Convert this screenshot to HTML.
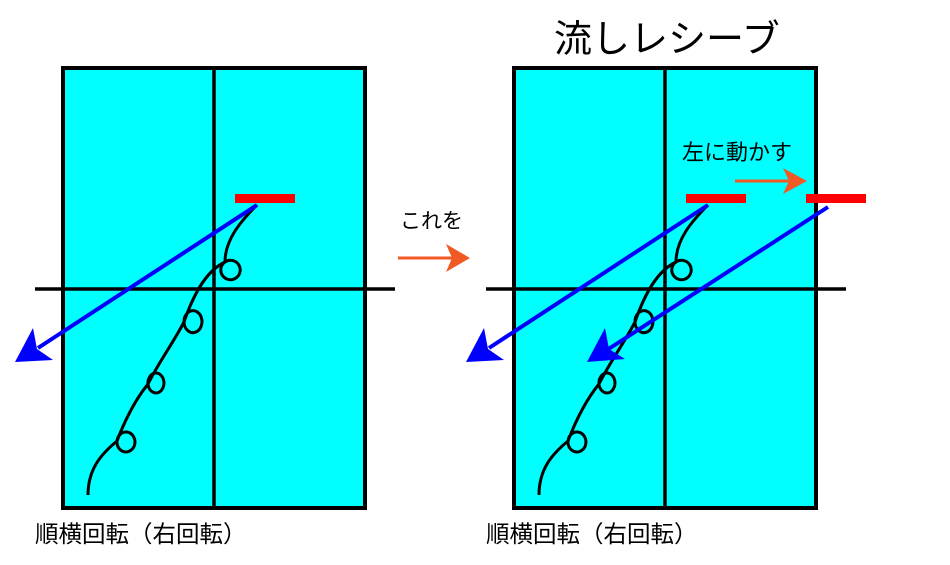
<!DOCTYPE html>
<html><head><meta charset="utf-8"><style>
body{margin:0;background:#fff;width:950px;height:560px;overflow:hidden}
text{font-family:"Liberation Sans","Noto Sans CJK JP",sans-serif;fill:#000}
</style></head><body>
<svg width="950" height="560" viewBox="0 0 950 560" xmlns="http://www.w3.org/2000/svg">
<defs>
<g id="court">
<rect x="63" y="68" width="302" height="440" fill="#00ffff" stroke="#000" stroke-width="4"/>
<line x1="214" y1="68" x2="214" y2="508" stroke="#000" stroke-width="3.5"/>
<line x1="35" y1="289" x2="395" y2="289" stroke="#000" stroke-width="3.5"/>
<rect x="235" y="194" width="60" height="9" fill="#ff0000"/>
<path d="M88,495 C88,470 100,455 117,441 A9,10 0 1 1 126,452 A9,10 0 0 1 117,441 C125,420 135,400 148,384 A8,10 0 1 1 156,393 A8,10 0 0 1 148,384 C160,360 172,345 184,322 A9,11 0 1 1 196,332 A9,11 0 0 1 184,322 C195,290 208,270 225,262 A9,9 0 1 1 236,278 A9,9 0 0 1 225,262 C225,240 240,222 257,205" fill="none" stroke="#000" stroke-width="3"/>
<line x1="257" y1="205" x2="38" y2="348" stroke="#0000ff" stroke-width="4"/>
<polygon points="15,362 33,328 37,349 53,360" fill="#0000ff"/>
</g>
</defs>
<use href="#court"/>
<use href="#court" transform="translate(451,0)"/>
<rect x="806" y="194" width="60" height="9" fill="#ff0000"/>
<line x1="828" y1="207" x2="607" y2="350" stroke="#0000ff" stroke-width="4"/>
<polygon points="587,362 605,328 609,349 625,359" fill="#0000ff"/>
<line x1="398" y1="258" x2="455" y2="258" stroke="#f15a24" stroke-width="3"/>
<polygon points="470,258 446,244 452,258 446,272" fill="#f15a24"/>
<line x1="735" y1="181" x2="792" y2="181" stroke="#f15a24" stroke-width="3"/>
<polygon points="807,181 783,168 789,181 783,194" fill="#f15a24"/>
<text x="554" y="52" font-size="38">流しレシーブ</text>
<text x="400" y="228" font-size="21">これを</text>
<text x="682" y="160" font-size="22">左に動かす</text>
<text x="35" y="542" font-size="23.5">順横回転（右回転）</text>
<text x="486" y="542" font-size="23.5">順横回転（右回転）</text>
</svg>
</body></html>
